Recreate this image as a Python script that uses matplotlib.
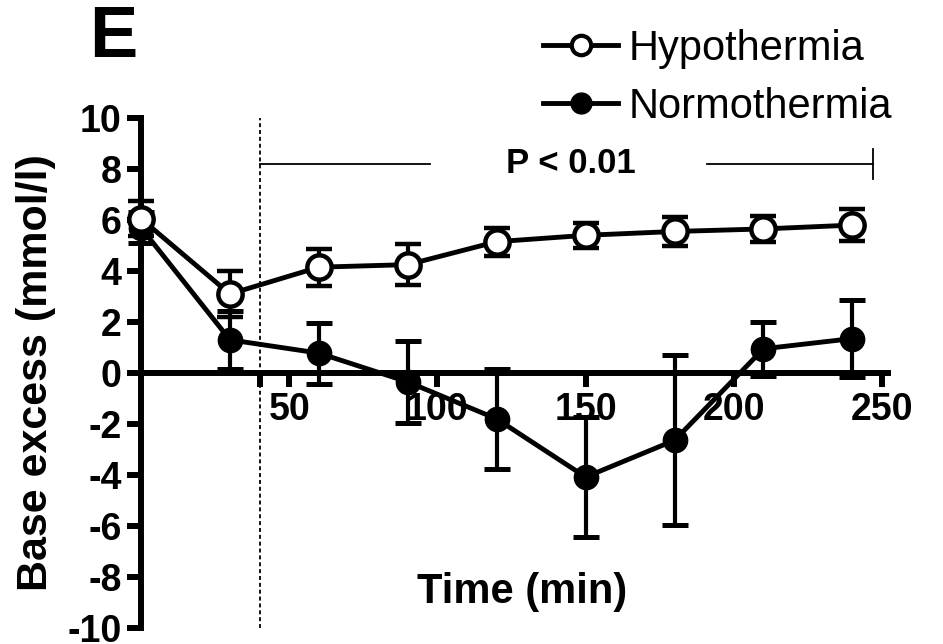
import matplotlib
matplotlib.use("Agg")
import matplotlib.pyplot as plt
from matplotlib.lines import Line2D

plt.rcParams['font.family'] = ['Liberation Sans', 'DejaVu Sans']

# ---- data ----
time_min = [0, 30, 60, 90, 120, 150, 180, 210, 240]
hypo_mean = [6.05, 3.1, 4.15, 4.25, 5.15, 5.4, 5.55, 5.65, 5.8]
hypo_err = [0.68, 0.9, 0.72, 0.8, 0.55, 0.5, 0.55, 0.52, 0.63]
normo_mean = [5.7, 1.3, 0.78, -0.35, -1.8, -4.08, -2.64, 0.95, 1.35]
normo_err = [0.6, 1.15, 1.2, 1.6, 1.97, 2.35, 3.33, 1.05, 1.5]
x_ticks = [50, 100, 150, 200, 250]
y_ticks = [-10, -8, -6, -4, -2, 0, 2, 4, 6, 8, 10]
cooling_start = 40
p_text = "P < 0.01"
p_level = 8.2
p_end = 247

W, H = 943, 644
fig = plt.figure(figsize=(W / 100, H / 100), dpi=100)
ax = fig.add_axes([141 / W, 1 - 628 / H, (888 - 141) / W, (628 - 118) / H])
ax.set_xlim(0, 252)
ax.set_ylim(-10, 10)

lw = 3.5
ms = 17.5
# Normothermia
ax.errorbar(time_min, normo_mean, yerr=normo_err, color='black', lw=lw,
            elinewidth=3.0, capsize=9.5, capthick=3.6, marker='o',
            markersize=ms, markerfacecolor='black', markeredgecolor='black',
            clip_on=False, zorder=3)
# Hypothermia
ax.errorbar(time_min, hypo_mean, yerr=hypo_err, color='black', lw=lw,
            elinewidth=3.0, capsize=9.5, capthick=3.6, marker='o',
            markersize=ms, markerfacecolor='white', markeredgecolor='black',
            markeredgewidth=3.2, clip_on=False, zorder=4)

# dashed line at cooling start
ax.plot([cooling_start, cooling_start], [-10, 10], color='black', lw=1.3,
        linestyle=(0, (2.2, 1.6)), clip_on=False, zorder=2)

# P bracket
ax.plot([cooling_start, 97.5], [p_level, p_level], color='black', lw=1.3, zorder=2)
ax.plot([191, p_end], [p_level, p_level], color='black', lw=1.3, zorder=2)
ax.plot([p_end, p_end], [p_level - 0.6, p_level + 0.6], color='black', lw=1.3, zorder=2)
ax.text(145, p_level, p_text, ha='center', va='center', fontsize=25,
        fontweight='bold')

# spines
for s in ['top', 'right']:
    ax.spines[s].set_visible(False)
ax.spines['left'].set_position(('data', 0))
ax.spines['bottom'].set_position(('data', 0))
ax.spines['left'].set_linewidth(4.3)
ax.spines['bottom'].set_linewidth(4.3)
ax.spines['left'].set_bounds(-10, 10)

ax.set_xticks(x_ticks)
ax.set_xticks([cooling_start], minor=True)
ax.set_yticks(y_ticks)
ax.set_yticklabels([str(v) for v in y_ticks])
ax.tick_params(axis='both', which='major', direction='out', length=10,
               width=4.3, labelsize=27, pad=4)
ax.tick_params(axis='x', which='minor', direction='out', length=10, width=4.3)
for lab in ax.get_xticklabels() + ax.get_yticklabels():
    lab.set_fontweight('bold')

ax.set_ylabel('Base excess (mmol/l)', fontsize=31, fontweight='bold')
ax.yaxis.set_label_coords((36 - 141) / (888 - 141), 0.5)
ax.yaxis.label.set_va('center')
ax.text(128.5, -8.6, 'Time (min)', ha='center', va='center', fontsize=30,
        fontweight='bold')

fig.text(113 / W, 1 - 38 / H, 'E', ha='center', va='center', fontsize=52,
         fontweight='bold')

h_hypo = Line2D([], [], color='black', lw=lw, marker='o', markersize=14,
                markerfacecolor='white', markeredgecolor='black', markeredgewidth=3.0)
h_normo = Line2D([], [], color='black', lw=lw, marker='o', markersize=15,
                 markerfacecolor='black', markeredgecolor='black')
leg = ax.legend([h_hypo, h_normo], ['Hypothermia', 'Normothermia'], loc='upper left',
                bbox_to_anchor=(543 / W, 1 - 29 / H), bbox_transform=fig.transFigure,
                frameon=False, fontsize=30, handlelength=1.8, handletextpad=0.25,
                labelspacing=0.43, borderpad=0, borderaxespad=0)

fig.savefig('out.png', dpi=100)
